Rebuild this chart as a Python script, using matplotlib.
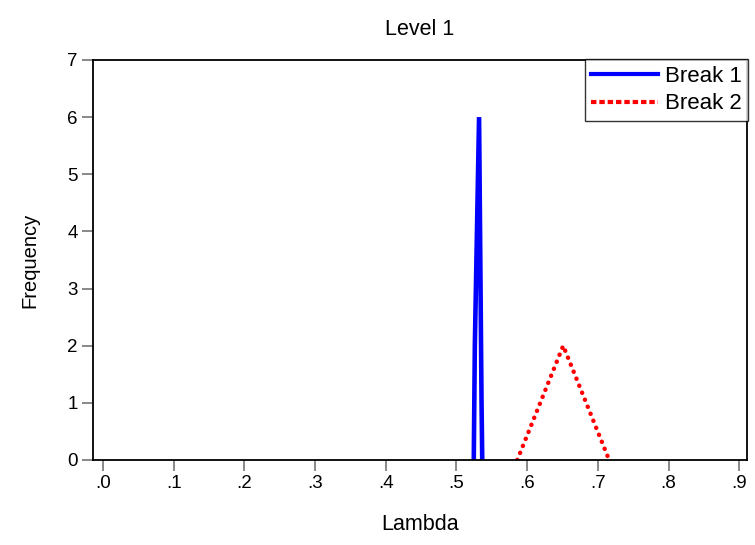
import numpy as np
import matplotlib.pyplot as plt
from matplotlib.lines import Line2D
from matplotlib.ticker import FuncFormatter

plt.rcParams['font.family'] = ['Liberation Sans', 'DejaVu Sans']

# Data
break1_x = [0.5245, 0.526, 0.532, 0.5355, 0.5365]
break1_y = [0, 2, 6, 1, 0]
break2_x = [0.586, 0.651, 0.716]
break2_y = [0, 2, 0]
labels = ['Break 1', 'Break 2']
x_ticks = np.arange(0, 1.0, 0.1)
y_ticks = np.arange(0, 8, 1)

# Figure
fig = plt.figure(figsize=(7.55, 5.45), dpi=100)
ax = fig.add_axes([0.1232, 0.156, 0.8662, 0.734])

ax.plot(break1_x, break1_y, color='#0000ff', linewidth=3.3, solid_joinstyle='miter')
ax.plot(break2_x, break2_y, color='#ff0000', linewidth=3.2,
        linestyle=(0, (0.05, 1.65)), dash_capstyle='round')

ax.set_xlim(-0.0141, 0.911)
ax.set_ylim(0, 7)
ax.set_xticks(x_ticks)
ax.set_yticks(y_ticks)
ax.xaxis.set_major_formatter(FuncFormatter(lambda v, p: f'{v:.1f}'.lstrip('0')))
ax.tick_params(axis='both', direction='out', length=8, width=1.3, color='#808080',
               labelsize=13.5, pad=3)

for s in ax.spines.values():
    s.set_linewidth(1.3)
    s.set_color('black')

ax.set_title('Level 1', fontsize=15.5, pad=18)
ax.set_xlabel('Lambda', fontsize=15.5, labelpad=16)
ax.set_ylabel('Frequency', fontsize=14.5, labelpad=20)

# Legend
handles = [
    Line2D([], [], color='#0000ff', linewidth=3),
    Line2D([], [], color='#ff0000', linewidth=3, linestyle=(0, (1.3, 0.7))),
]
leg = ax.legend(handles, labels, loc='upper right', bbox_to_anchor=(1.002, 1.002),
                fontsize=16, frameon=True, fancybox=False, borderaxespad=0,
                handlelength=3.0, handletextpad=0.3, borderpad=0.3,
                labelspacing=0.3)
leg.get_frame().set_edgecolor('black')
leg.get_frame().set_linewidth(1.0)

plt.savefig('out.png', dpi=100)
